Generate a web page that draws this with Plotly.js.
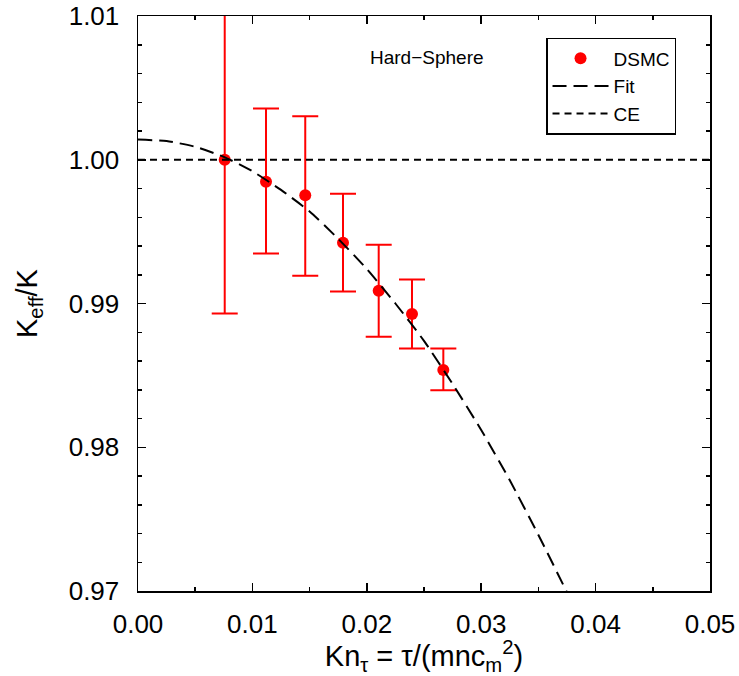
<!DOCTYPE html>
<html>
<head>
<meta charset="utf-8">
<script src="https://cdn.plot.ly/plotly-3.0.1.min.js"></script>
<style>html,body{margin:0;padding:0;background:#fff;}#chart{width:739px;height:676px;}</style>
</head>
<body>
<div id="chart"></div>
<script>
// DSMC data
const dsmcX = [0.00758, 0.01119, 0.01462, 0.01792, 0.02104, 0.02395, 0.02669];
const dsmcY = [1.0000, 0.99847, 0.99753, 0.99423, 0.99089, 0.98927, 0.98537];
const errPlus = [0.0106, 0.0051, 0.0055, 0.0034, 0.0032, 0.0024, 0.0015];
const errMinus = [0.0107, 0.0050, 0.0056, 0.0034, 0.0032, 0.0024, 0.0014];
// Fit curve
const fitX = [0, 0.0025, 0.005, 0.0075, 0.01, 0.0125, 0.015, 0.0175, 0.02, 0.0225, 0.025, 0.0275, 0.03, 0.0325, 0.035, 0.0375];
const fitY = [1.0014, 1.0013, 1.0009, 1.0002, 0.9992, 0.9979, 0.9964, 0.9945, 0.9924, 0.9900, 0.9874, 0.9844, 0.9812, 0.9777, 0.9739, 0.9699];
// CE line
const ceX = [0, 0.05];
const ceY = [1.0, 1.0];
const xTicks = [0, 0.01, 0.02, 0.03, 0.04, 0.05];
const yTicks = [0.97, 0.98, 0.99, 1.00, 1.01];

const FONT = 'Liberation Sans, Arial, sans-serif';

const traces = [
  {
    x: dsmcX, y: dsmcY, type: 'scatter', mode: 'markers', name: 'DSMC',
    marker: {color: '#ff0000', size: 12},
    error_y: {type: 'data', symmetric: false, array: errPlus, arrayminus: errMinus,
              color: '#ff0000', thickness: 2, width: 13}
  },
  {
    x: fitX, y: fitY, type: 'scatter', mode: 'lines', name: 'Fit',
    line: {color: '#000', width: 2, dash: '14px,7px', shape: 'spline', smoothing: 0.6}
  },
  {
    x: ceX, y: ceY, type: 'scatter', mode: 'lines', name: 'CE',
    line: {color: '#000', width: 2, dash: '7px,5px'}
  }
];

const axisCommon = {
  showgrid: false, zeroline: false, showline: true, linecolor: '#000', linewidth: 1.5,
  mirror: 'allticks', ticks: 'inside', ticklen: 8, tickwidth: 1.5, tickcolor: '#000',
  tickfont: {family: FONT, size: 26, color: '#000'}, tickformat: '.2f'
};

const layout = {
  width: 739, height: 676,
  margin: {l: 138, r: 29, t: 16, b: 85},
  paper_bgcolor: '#fff', plot_bgcolor: '#fff',
  font: {family: FONT, color: '#000'},
  showlegend: true,
  legend: {
    x: 0.9406, xanchor: 'right', y: 0.962, yanchor: 'top',
    bordercolor: '#000', borderwidth: 1.5, bgcolor: '#fff',
    font: {family: FONT, size: 19, color: '#000'},
    itemwidth: 56, tracegroupgap: 0
  },
  xaxis: Object.assign({}, axisCommon, {
    range: [0, 0.05], tickvals: xTicks, ticklabelstandoff: 9,
    minor: {dtick: 0.005, ticks: 'inside', ticklen: 4, tickwidth: 1.5, tickcolor: '#000'},
    title: {text: 'Kn<sub>τ</sub> = τ/(mnc<sub>m</sub><sup>2</sup>)', font: {family: FONT, size: 29, color: '#000'}, standoff: 0}
  }),
  yaxis: Object.assign({}, axisCommon, {
    range: [0.97, 1.01], tickvals: yTicks, ticklabelstandoff: 12,
    minor: {dtick: 0.002, ticks: 'inside', ticklen: 4, tickwidth: 1.5, tickcolor: '#000'},
    title: {text: 'K<sub>eff</sub>/K', font: {family: FONT, size: 29, color: '#000'}, standoff: 22}
  }),
  annotations: [{
    x: 0.0253, y: 1.0071, xref: 'x', yref: 'y', text: 'Hard\u2212Sphere', showarrow: false,
    font: {family: FONT, size: 19, color: '#000'}
  }]
};

Plotly.newPlot('chart', traces, layout, {displayModeBar: false, staticPlot: true});
</script>
</body>
</html>
